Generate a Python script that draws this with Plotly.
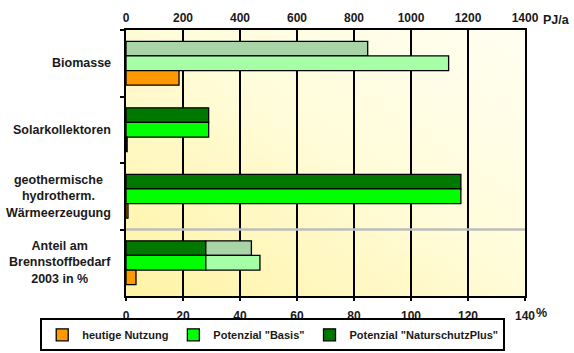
import base64
import plotly.graph_objects as go

# ---------------- data ----------------
categories = ["Biomasse", "Solarkollektoren",
              "geothermische<br>hydrotherm.<br>Wärmeerzeugung",
              "Anteil am<br>Brennstoffbedarf<br>2003 in %"]
pj_categories = categories[:3]
pct_category = categories[3:]

heutige_pj = [186, 4, 7]             # PJ/a
basis_pj = [1132, 290, 1175]         # PJ/a
natur_pj = [848, 290, 1175]          # PJ/a

heutige_pct = [3.5]                  # %
basis_pct_dark = [28]                # %
basis_pct_light = [19]               # %
natur_pct_dark = [28]                # %
natur_pct_light = [16]               # %

top_ticks = [0, 200, 400, 600, 800, 1000, 1200, 1400]
bottom_ticks = [0, 20, 40, 60, 80, 100, 120, 140]

# ---------------- styles ----------------
C_ORANGE = "#FF9900"
C_BASIS = "#00FF00"
C_NATUR = "#007800"
C_BASIS_LIGHT = "#A6FFA6"
C_NATUR_LIGHT = "#A8D4A8"
FONT = "Liberation Sans"
TXT = "#1a1a1a"
line = dict(color="black", width=1.3)


def colors(base, light):
    return [light if c == "Biomasse" else base for c in pj_categories]


fig = go.Figure()

# % subplot (bottom axis) - these carry the legend
fig.add_trace(go.Bar(y=pct_category, x=natur_pct_dark, orientation="h", xaxis="x2",
                     offsetgroup="N", name='Potenzial "NaturschutzPlus"', legendrank=3,
                     marker=dict(color=C_NATUR, line=line)))
fig.add_trace(go.Bar(y=pct_category, x=basis_pct_dark, orientation="h", xaxis="x2",
                     offsetgroup="B", name='Potenzial "Basis"', legendrank=2,
                     marker=dict(color=C_BASIS, line=line)))
fig.add_trace(go.Bar(y=pct_category, x=heutige_pct, orientation="h", xaxis="x2",
                     offsetgroup="H", name="heutige Nutzung", legendrank=1,
                     marker=dict(color=C_ORANGE, line=line)))
fig.add_trace(go.Bar(y=pct_category, x=natur_pct_light, base=natur_pct_dark, orientation="h",
                     xaxis="x2", offsetgroup="N", showlegend=False,
                     marker=dict(color=C_NATUR_LIGHT, line=line)))
fig.add_trace(go.Bar(y=pct_category, x=basis_pct_light, base=basis_pct_dark, orientation="h",
                     xaxis="x2", offsetgroup="B", showlegend=False,
                     marker=dict(color=C_BASIS_LIGHT, line=line)))

# PJ subplot (top axis)
fig.add_trace(go.Bar(y=pj_categories, x=natur_pj, orientation="h", xaxis="x",
                     offsetgroup="N", showlegend=False,
                     marker=dict(color=colors(C_NATUR, C_NATUR_LIGHT), line=line)))
fig.add_trace(go.Bar(y=pj_categories, x=basis_pj, orientation="h", xaxis="x",
                     offsetgroup="B", showlegend=False,
                     marker=dict(color=colors(C_BASIS, C_BASIS_LIGHT), line=line)))
fig.add_trace(go.Bar(y=pj_categories, x=heutige_pj, orientation="h", xaxis="x",
                     offsetgroup="H", showlegend=False,
                     marker=dict(color=C_ORANGE, line=line)))

# gradient background as an inline SVG image
svg = ('<svg xmlns="http://www.w3.org/2000/svg" width="400" height="266" preserveAspectRatio="none">'
       '<defs><linearGradient id="g" x1="0" y1="1" x2="1" y2="0">'
       '<stop offset="0" stop-color="#FFF3A4"/><stop offset="0.55" stop-color="#FFFCDA"/>'
       '<stop offset="1" stop-color="#FFFFF2"/></linearGradient></defs>'
       '<rect width="400" height="266" fill="url(#g)"/></svg>')
src = "data:image/svg+xml;base64," + base64.b64encode(svg.encode()).decode()

tickfont = dict(family=FONT, size=12, color=TXT, weight="bold")

fig.update_layout(
    width=574, height=353,
    margin=dict(l=126, r=49, t=30, b=57, autoexpand=False),
    paper_bgcolor="white", plot_bgcolor="#FFFCDC",
    barmode="group", bargap=0.34, bargroupgap=0,
    font=dict(family=FONT, size=11, color=TXT),
    images=[dict(source=src, xref="paper", yref="paper", x=0, y=1, sizex=1, sizey=1,
                 sizing="stretch", xanchor="left", yanchor="top", layer="below")],
    xaxis=dict(side="top", range=[0, 1400], tickvals=top_ticks, showgrid=True,
               gridcolor="black", gridwidth=1.5, zeroline=False,
               showline=True, linecolor="black", linewidth=2, mirror=True,
               ticks="", tickfont=tickfont, ticklabelstandoff=1,
               fixedrange=True),
    xaxis2=dict(overlaying="x", side="bottom", range=[0, 140], tickvals=bottom_ticks,
                showgrid=False, zeroline=False, showline=False,
                ticks="outside", ticklen=4, tickwidth=1.5, tickcolor="black",
                tickfont=tickfont, ticklabelstandoff=5),
    yaxis=dict(type="category", categoryorder="array", categoryarray=categories,
               autorange="reversed", showticklabels=False, showgrid=False,
               showline=True, linecolor="black", linewidth=2, mirror=True,
               ticks="outside", tickson="boundaries", ticklen=4, tickcolor="black", tickwidth=1.5),
    legend=dict(orientation="h", x=-0.215, xanchor="left", y=-0.084, yanchor="top",
                bgcolor="white", bordercolor="black", borderwidth=2,
                font=dict(family=FONT, size=11, color=TXT, weight="bold"),
                itemwidth=30, tracegroupgap=0),
    showlegend=True,
)

# gray separator between PJ and % groups
fig.add_shape(type="line", xref="paper", x0=0, x1=1, yref="y", y0=2.5, y1=2.5,
              line=dict(color="#BDBDBD", width=2.5))

# category labels (centered lines, right-aligned block)
for c in categories:
    fig.add_annotation(text="<b>" + c + "</b>", xref="paper", x=0, xshift=-13,
                       yref="y", y=c, xanchor="right", align="center", showarrow=False,
                       font=dict(family=FONT, size=12.5, color=TXT))

# unit labels
fig.add_annotation(text="<b>PJ/a</b>", xref="paper", x=1, xshift=16, yref="paper", y=1,
                   yshift=10, xanchor="left", yanchor="middle", showarrow=False,
                   font=dict(family=FONT, size=12.5, color=TXT))
fig.add_annotation(text="<b>%</b>", xref="paper", x=1, xshift=9, yref="paper", y=0,
                   yshift=-17, xanchor="left", yanchor="middle", showarrow=False,
                   font=dict(family=FONT, size=12.5, color=TXT))

fig.write_html("out.html")
